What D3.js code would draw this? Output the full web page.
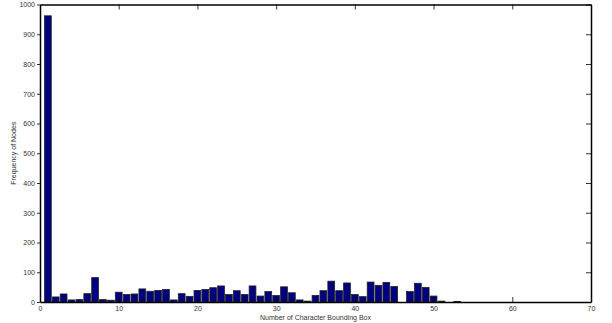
<!DOCTYPE html>
<html>
<head>
<meta charset="utf-8">
<script src="https://cdn.jsdelivr.net/npm/d3@7"></script>
<style>
  body { margin: 0; background: #fff; }
  text { font-family: "Liberation Sans", Arial, sans-serif; }
</style>
</head>
<body>
<div id="chart"></div>
<script>
var svgWidth = 612;
var svgHeight = 323;

// bounding box count (bin centre) and how many nodes had it
var boxCounts = d3.range(0, 70);
var frequency = [
  0, 962, 17, 27, 7, 8, 28, 82, 8, 6,
  33, 25, 27, 44, 36, 39, 42, 7, 28, 19,
  39, 42, 48, 54, 25, 38, 25, 54, 20, 35,
  22, 51, 31, 7, 3, 22, 38, 70, 38, 64,
  25, 18, 67, 56, 66, 52, 0, 35, 63, 49,
  20, 3, 0, 2, 0, 0, 0, 0, 0, 0,
  0, 0, 0, 0, 0, 0, 0, 0, 0, 0
];
var xTicks = [0, 10, 20, 30, 40, 50, 60, 70];
var yTicks = [0, 100, 200, 300, 400, 500, 600, 700, 800, 900, 1000];

var margin = {top: 4.5, right: 21, bottom: 21, left: 40};
var width = svgWidth - margin.left - margin.right;
var height = svgHeight - margin.top - margin.bottom;

var svg = d3.select("#chart")
  .append("svg")
    .attr("width", svgWidth)
    .attr("height", svgHeight);

var chartGroup = svg.append("g")
  .attr("transform", `translate(${margin.left}, ${margin.top})`);

var xScale = d3.scaleLinear().domain([0, 70]).range([0, width]);
var yScale = d3.scaleLinear().domain([0, 1000]).range([height, 0]);

// bars
var barW = 0.86;
chartGroup.selectAll("rect.bar")
  .data(boxCounts.map((k, i) => ({k: k, v: frequency[i]})).filter(d => d.v > 0))
  .enter()
  .append("rect")
    .attr("class", "bar")
    .attr("x", d => xScale(d.k - barW / 2))
    .attr("width", d => xScale(barW) - xScale(0))
    .attr("y", d => yScale(d.v))
    .attr("height", d => height - yScale(d.v))
    .attr("fill", "#000080")
    .attr("stroke", "#222")
    .attr("stroke-width", 0.8);

// axes
var fmt = d3.format("d");
var bottomAxis = d3.axisBottom(xScale).tickValues(xTicks).tickFormat(fmt).tickSizeInner(-5).tickSizeOuter(0).tickPadding(4);
var topAxis = d3.axisTop(xScale).tickValues(xTicks).tickFormat("").tickSizeInner(-5).tickSizeOuter(0);
var leftAxis = d3.axisLeft(yScale).tickValues(yTicks).tickFormat(fmt).tickSizeInner(3).tickSizeOuter(0).tickPadding(2);
var rightAxis = d3.axisRight(yScale).tickValues(yTicks).tickFormat("").tickSizeInner(-5).tickSizeOuter(0);

var gB = chartGroup.append("g").attr("transform", `translate(0, ${height})`).call(bottomAxis);
var gT = chartGroup.append("g").call(topAxis);
var gL = chartGroup.append("g").call(leftAxis);
var gR = chartGroup.append("g").attr("transform", `translate(${width}, 0)`).call(rightAxis);

[gB, gT, gL, gR].forEach(function(g) {
  g.select(".domain").attr("stroke", "#000").attr("stroke-width", 1.5);
  g.selectAll(".tick line").attr("stroke", "#000").attr("stroke-width", 0.8);
  g.selectAll(".tick text")
    .attr("fill", "#333")
    .style("font-size", "7px")
    .style("font-family", "Liberation Sans, Arial, sans-serif");
});

// axis labels
svg.append("text")
  .attr("x", margin.left + width / 2)
  .attr("y", 320)
  .attr("text-anchor", "middle")
  .attr("fill", "#333")
  .style("font-size", "7px")
  .text("Number of Character Bounding Box");

svg.append("text")
  .attr("transform", `translate(16, ${margin.top + height / 2}) rotate(-90)`)
  .attr("text-anchor", "middle")
  .attr("fill", "#333")
  .style("font-size", "7px")
  .text("Frequency of Nodes");
</script>
</body>
</html>
